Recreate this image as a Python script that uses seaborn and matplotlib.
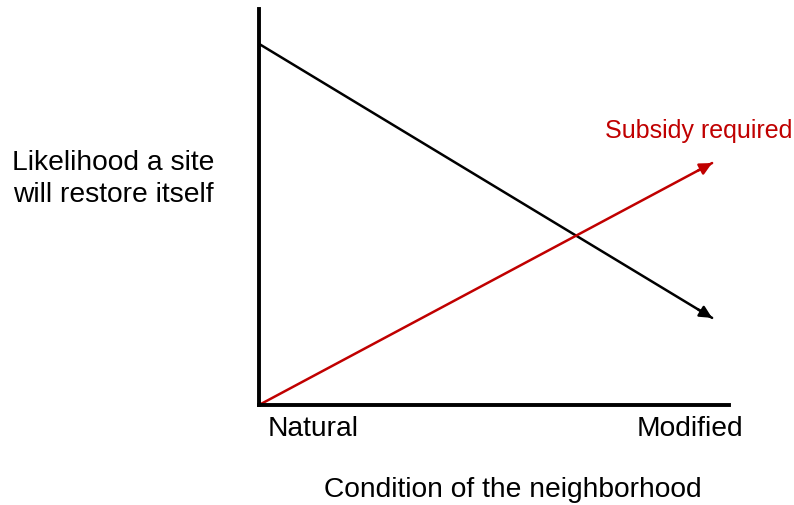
import pandas as pd
import matplotlib
matplotlib.use('Agg')
import matplotlib.pyplot as plt
import seaborn as sns

sns.set_style('white')
plt.rcParams['font.family'] = ['Liberation Sans', 'DejaVu Sans']
plt.rcParams['text.color'] = 'black'

# conceptual diagram: start (Natural) and end (Modified) of each arrow
condition = [0.0, 0.964]
likelihood = [0.912, 0.22]
subsidy = [0.0, 0.611]
x_labels = ['Natural', 'Modified']

df = pd.DataFrame({'condition': condition, 'likelihood': likelihood,
                   'subsidy': subsidy})

fig = plt.figure(figsize=(7.94, 5.05), dpi=100)
ax = fig.add_axes([259 / 794, 100 / 505, 470 / 794, 396 / 505])

sns.lineplot(data=df, x='condition', y='likelihood', ax=ax, color='black',
             linewidth=1.8)
sns.lineplot(data=df, x='condition', y='subsidy', ax=ax, color='#c00000',
             linewidth=1.8)

# arrowheads at the Modified end
for col, colour in [('likelihood', 'black'), ('subsidy', '#c00000')]:
    ax.annotate('', xy=(df['condition'][1], df[col][1]),
                xytext=(df['condition'][1] - 0.03,
                        df[col][1] - 0.03 * (df[col][1] - df[col][0])
                        / (df['condition'][1] - df['condition'][0])),
                arrowprops=dict(arrowstyle='-|>', color=colour, lw=1.8,
                                mutation_scale=18, shrinkA=0, shrinkB=0))

ax.set_xlim(0, 1)
ax.set_ylim(0, 1)
ax.set_xticks([])
ax.set_yticks([])
ax.set_xlabel('')
ax.set_ylabel('')
sns.despine(ax=ax)
for side in ['left', 'bottom']:
    ax.spines[side].set_linewidth(2.8)
    ax.spines[side].set_color('black')

fs = 20.3
ax.text(0.019, -0.027, x_labels[0], transform=ax.transAxes, ha='left',
        va='top', fontsize=fs, color='black')
ax.text(1.03, -0.027, x_labels[1], transform=ax.transAxes, ha='right',
        va='top', fontsize=fs, color='black')
fig.text(513 / 794, 1 - 490 / 505, 'Condition of the neighborhood',
         ha='center', va='center', fontsize=fs, color='black')
fig.text(113 / 794, 1 - 179 / 505, 'Likelihood a site\nwill restore itself',
         ha='center', va='center', fontsize=fs, linespacing=1.3,
         color='black')
fig.text(792 / 794, 1 - 131 / 505, 'Subsidy required', ha='right',
         va='center', fontsize=18, color='#c00000')

fig.savefig('out.png', dpi=100)
